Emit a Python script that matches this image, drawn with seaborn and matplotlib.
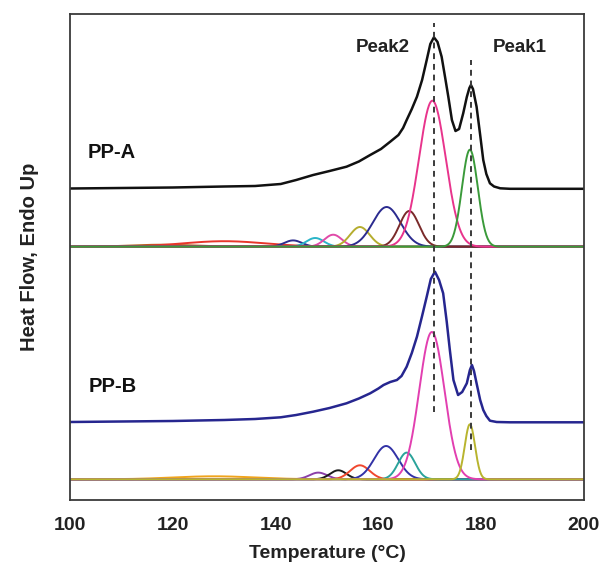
import numpy as np
import pandas as pd
import matplotlib
matplotlib.use("Agg")
import matplotlib.pyplot as plt
import seaborn as sns

# ---------------- data ----------------
# measured DSC curves (temperature in degC, signal in plot units, higher = endo up)
ppa_T = [100, 110, 120, 130, 136, 141.0, 144.0, 147.3, 150.5, 153.8, 156.2, 158.4, 160.5,
         162.3, 163.9, 164.8, 165.5, 166.5, 167.5, 168.5, 169.4, 170.1, 170.8, 171.5,
         172.3, 173.0, 173.6, 174.3, 175.0, 175.7, 176.5, 177.2, 177.7, 178.0, 178.4,
         179.1, 179.8, 180.4, 181.0, 181.7, 182.5, 183.7, 185.6, 200]
ppa_y = [311.5, 312.0, 312.5, 313.5, 314.0, 316.0, 320.0, 325.0, 329.0, 333.3, 338.5, 345.0, 351.0,
         358.3, 365.0, 372.0, 380.0, 391.0, 403.3, 420.0, 440.0, 456.0, 462.7, 458.0,
         443.3, 422.0, 403.3, 380.0, 369.0, 371.0, 386.7, 403.0, 412.0, 415.0, 411.0,
         393.3, 365.0, 340.0, 326.0, 316.7, 313.5, 311.7, 311.2, 311.2]

ppb_T = [100, 110, 120, 130, 136, 141.0, 144.0, 147.3, 150.5, 153.8, 156.2, 158.4, 160.0,
         161.0, 162.3, 163.6, 164.5, 165.5, 166.5, 167.5, 168.5, 169.4, 170.2, 171.0,
         171.8, 172.6, 173.3, 173.9, 174.6, 175.5, 176.3, 177.2, 177.8, 178.2, 178.6,
         179.1, 179.8, 180.4, 181.0, 181.7, 183.0, 185.6, 200]
ppb_y = [78.0, 78.5, 79.0, 80.0, 81.0, 82.7, 85.0, 88.3, 92.0, 96.7, 101.5, 106.7, 111.5,
         115.0, 118.0, 120.0, 124.0, 133.3, 147.0, 163.3, 184.0, 203.3, 221.0, 228.3,
         220.0, 206.7, 178.0, 150.0, 120.0, 105.0, 108.0, 116.7, 130.0, 135.0, 129.0,
         116.7, 100.0, 90.0, 84.0, 79.3, 78.0, 77.7, 77.7]

# Gaussian components of the deconvolution: centre (degC), height, width (sigma, degC)
ppa_base = 253.3
ppa_center = [118.0, 130.0, 143.4, 147.7, 151.2, 156.4, 161.6, 166.0, 170.5, 177.8]
ppa_height = [2.0, 5.5, 6.3, 8.7, 12.0, 19.7, 39.7, 35.7, 146.0, 97.0]
ppa_sigma = [6.0, 8.0, 1.7, 1.7, 1.7, 1.9, 2.7, 1.9, 2.6, 1.55]
ppa_colors = ['#b5651d', '#e8352b', '#2e2e8f', '#2bb5c8', '#e04aa8', '#b5ad2e',
              '#2b2b8f', '#7a2a2a', '#e8348c', '#3a9a3a']

ppb_base = 20.7
ppb_center = [128.0, 148.3, 152.2, 156.4, 161.5, 165.5, 170.4, 177.8]
ppb_height = [3.0, 6.7, 9.0, 14.0, 33.3, 26.7, 147.3, 55.0]
ppb_sigma = [8.0, 1.7, 1.6, 1.9, 2.35, 1.65, 2.45, 1.0]
ppb_colors = ['#f0a41c', '#8b3fa8', '#1a1a1a', '#f0472e', '#3232a6', '#2aa39a',
              '#e23fb0', '#b8b42e']

# dashed guide lines at the two melting peaks
dash_T = [170.9, 178.0]
dash_top = [476.7, 440.0]
dash_bottom = [88.0, 50.0]

x_ticks = [100, 120, 140, 160, 180, 200]

# ---------------- figure ----------------
sns.set_style("white")
plt.rcParams['font.family'] = ['Liberation Sans', 'DejaVu Sans']
plt.rcParams['font.weight'] = 'bold'

fig = plt.figure(figsize=(6.01, 5.69), dpi=100)
fig.patch.set_facecolor('white')
ax = fig.add_axes([70 / 601, 1 - 500 / 569, 514 / 601, 486 / 569])

T_grid = np.linspace(100, 200, 1201)


def comp_frame(centers, heights, sigmas, base, tag):
    rows = []
    for i, (c, h, s) in enumerate(zip(centers, heights, sigmas)):
        y = base + h * np.exp(-0.5 * ((T_grid - c) / s) ** 2)
        rows.append(pd.DataFrame({'T': T_grid, 'y': y, 'comp': f'{tag}{i}'}))
    return pd.concat(rows, ignore_index=True)


dfa = comp_frame(ppa_center, ppa_height, ppa_sigma, ppa_base, 'a')
dfb = comp_frame(ppb_center, ppb_height, ppb_sigma, ppb_base, 'b')

sns.lineplot(data=dfa, x='T', y='y', hue='comp', palette=ppa_colors, legend=False,
             estimator=None, sort=False, linewidth=1.4, ax=ax)
sns.lineplot(data=dfb, x='T', y='y', hue='comp', palette=ppb_colors, legend=False,
             estimator=None, sort=False, linewidth=1.4, ax=ax)

sns.lineplot(x=ppa_T, y=ppa_y, color='#111111', linewidth=1.8, estimator=None, sort=False, ax=ax)
sns.lineplot(x=ppb_T, y=ppb_y, color='#26268f', linewidth=1.8, estimator=None, sort=False, ax=ax)

for t, top, bot in zip(dash_T, dash_top, dash_bottom):
    ax.plot([t, t], [bot, top], color='#3a3a3a', linewidth=1.4, dashes=(3, 2.5))

ax.text(160.8, 452.5, 'Peak2', fontsize=13.5, fontweight='bold', ha='center', va='center',
        color='#222222')
ax.text(187.5, 452.5, 'Peak1', fontsize=13.5, fontweight='bold', ha='center', va='center',
        color='#222222')
ax.text(103.4, 348, 'PP-A', fontsize=14.5, fontweight='bold', ha='left', va='center',
        color='#111111')
ax.text(103.6, 114, 'PP-B', fontsize=14.5, fontweight='bold', ha='left', va='center',
        color='#111111')

ax.set_xlim(100, 200)
ax.set_ylim(0, 486)
ax.set_xticks(x_ticks)
ax.set_xticks(np.arange(110, 200, 20), minor=True)
ax.set_yticks([])
ax.tick_params(axis='x', which='major', direction='in', length=5.5, width=1.2,
               labelsize=14, pad=12, colors='#333333', labelcolor='#222222', top=False)
ax.tick_params(axis='x', which='minor', direction='in', length=3, width=1.2,
               colors='#333333', top=False)
for lab in ax.get_xticklabels():
    lab.set_fontweight('bold')
for sp in ax.spines.values():
    sp.set_visible(True)
    sp.set_color('#3a3a3a')
    sp.set_linewidth(1.3)

ax.set_xlabel('Temperature (°C)', fontsize=14, fontweight='bold', labelpad=8, color='#222222')
ax.set_ylabel('Heat Flow, Endo Up', fontsize=14.5, fontweight='bold', labelpad=22, color='#222222')

fig.savefig('out.png', dpi=100)
